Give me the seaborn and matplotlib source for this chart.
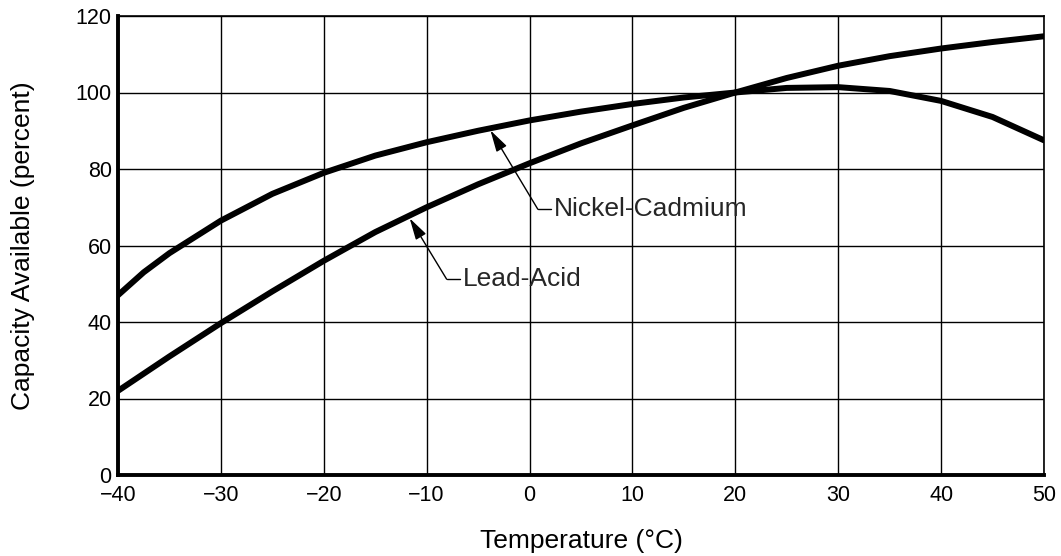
import matplotlib
matplotlib.use("Agg")
import matplotlib.pyplot as plt
import seaborn as sns
import pandas as pd

temperature = [-40, -37.5, -35, -30, -25, -20, -15, -10, -5, 0, 5, 10, 15, 20, 25, 30, 35, 40, 45, 50]
nickel_cadmium = [47, 53, 58, 66.5, 73.5, 79, 83.5, 87, 90, 92.7, 95, 97, 98.7, 100, 101.2, 101.4, 100.4, 97.8, 93.6, 87.5]
lead_acid = [22, 26.5, 31, 39.7, 48, 56, 63.5, 70, 76, 81.5, 86.7, 91.4, 96, 100, 103.8, 107, 109.5, 111.5, 113.2, 114.7]
x_ticks = [-40, -30, -20, -10, 0, 10, 20, 30, 40, 50]
x_tick_labels = ["\u221240", "\u221230", "\u221220", "\u221210", "0", "10", "20", "30", "40", "50"]
y_ticks = [0, 20, 40, 60, 80, 100, 120]

df = pd.DataFrame({
    "Temperature": temperature * 2,
    "Capacity": nickel_cadmium + lead_acid,
    "Battery": ["Nickel-Cadmium"] * len(temperature) + ["Lead-Acid"] * len(temperature),
})

sns.set_style("white")
plt.rcParams["font.family"] = ["Liberation Sans", "DejaVu Sans"]

fig = plt.figure(figsize=(10.61, 5.56), dpi=100)
ax = fig.add_axes([118 / 1061, 1 - 475 / 556, (1044 - 118) / 1061, (475 - 16) / 556])

sns.lineplot(data=df, x="Temperature", y="Capacity", hue="Battery",
             palette={"Nickel-Cadmium": "black", "Lead-Acid": "black"},
             linewidth=4.3, legend=False, ax=ax, zorder=3)

ax.set_xlim(-40, 50)
ax.set_ylim(0, 120)
ax.set_xticks(x_ticks)
ax.set_xticklabels(x_tick_labels)
ax.set_yticks(y_ticks)
ax.grid(True, color="black", linewidth=1.0)
ax.tick_params(axis="both", length=0, labelsize=15.5, colors="black")
ax.tick_params(axis="x", pad=7.5)
ax.tick_params(axis="y", pad=4.5)
for side in ["top", "right"]:
    ax.spines[side].set_linewidth(1.2)
    ax.spines[side].set_color("black")
for side in ["left", "bottom"]:
    ax.spines[side].set_linewidth(2.8)
    ax.spines[side].set_color("black")

ax.set_xlabel("Temperature (\u00b0C)", fontsize=19, color="black")
ax.set_ylabel("Capacity Available (percent)", fontsize=19, color="black")
ax.xaxis.set_label_coords(0.5, -0.118)
ax.yaxis.set_label_coords(-0.090, 0.5)

arrow = dict(arrowstyle="-|>,head_length=1.1,head_width=0.3", color="black", lw=1.0,
             mutation_scale=12, shrinkA=0, shrinkB=0)
# Nickel-Cadmium leader
ax.annotate("", xy=(-3.8, 90.1), xytext=(0.8, 69.5), arrowprops=arrow)
ax.plot([0.8, 2.1], [69.5, 69.5], color="black", lw=1.0)
ax.text(2.4, 69.5, "Nickel-Cadmium", fontsize=19, va="center", ha="left")
# Lead-Acid leader
ax.annotate("", xy=(-11.65, 67.1), xytext=(-8.06, 51.2), arrowprops=arrow)
ax.plot([-8.06, -6.8], [51.2, 51.2], color="black", lw=1.0)
ax.text(-6.5, 51.2, "Lead-Acid", fontsize=19, va="center", ha="left")

fig.savefig("out.png", dpi=100)
